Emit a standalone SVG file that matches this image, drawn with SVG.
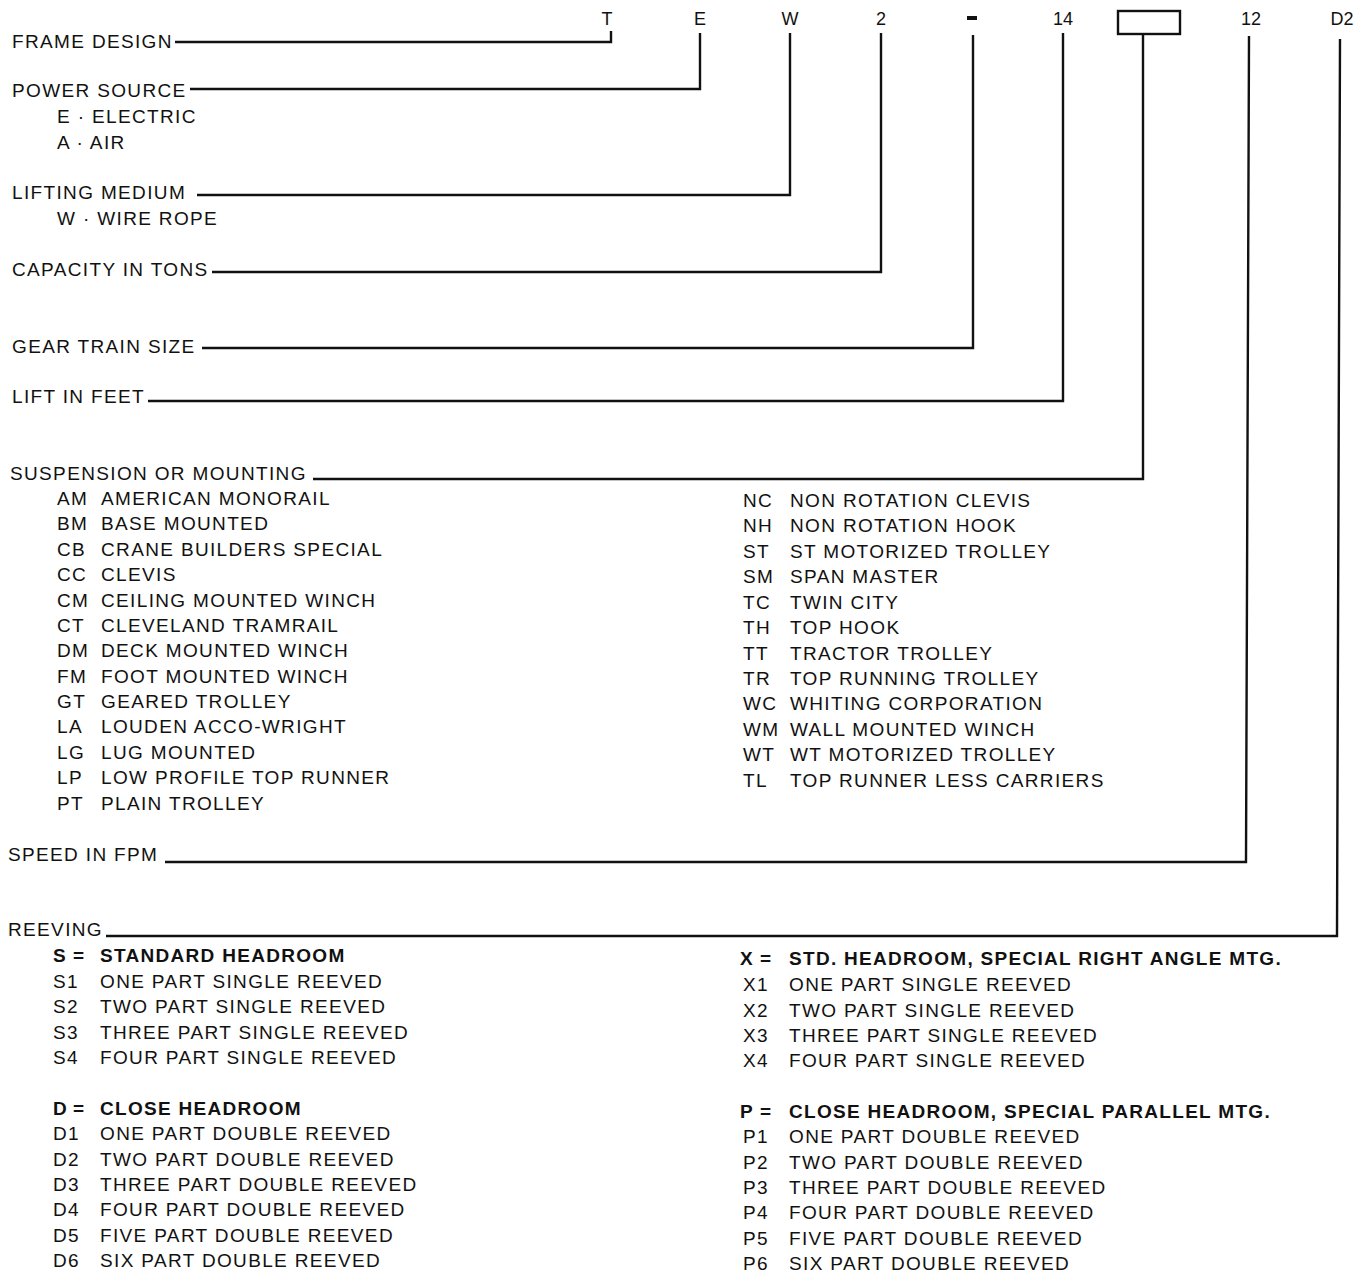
<svg xmlns="http://www.w3.org/2000/svg" width="1370" height="1276" viewBox="0 0 1370 1276">
<style>
text{font-family:"Liberation Sans",Arial,sans-serif;fill:#111;font-size:19px;letter-spacing:1.35px}
.c{font-size:18px;letter-spacing:0px;text-anchor:middle}
.b{font-weight:bold;letter-spacing:1.3px}
.ln{stroke:#111;stroke-width:2.4;fill:none}
</style>
<rect width="1370" height="1276" fill="#fff"/>
<g id="code">
<text class="c" x="607" y="25">T</text>
<text class="c" x="700" y="25">E</text>
<text class="c" x="790" y="25">W</text>
<text class="c" x="881" y="25">2</text>
<rect x="967" y="16" width="10" height="4" fill="#111"/>
<text class="c" x="1063" y="25">14</text>
<rect x="1118" y="11" width="62" height="23" class="ln" stroke-width="2"/>
<text class="c" x="1251" y="25">12</text>
<text class="c" x="1342" y="25">D2</text>
</g>
<g id="connectors" class="ln">
<polyline points="175,42 611,42 611,31"/>
<polyline points="190,89 700,89 700,33"/>
<polyline points="197,195 790,195 790,33"/>
<polyline points="212,272 881,272 881,33"/>
<polyline points="202,348 973,348 973,35"/>
<polyline points="148,401 1063,401 1063,33"/>
<polyline points="313,479 1143,479 1143,34"/>
<polyline points="165,862 1246,862 1249,36"/>
<polyline points="106,936 1337,936 1340,39"/>
</g>
<g id="frame-design"><text x="12" y="48">FRAME DESIGN</text></g>
<g id="power-source">
<text x="12" y="97">POWER SOURCE</text>
<text x="57" y="123">E · ELECTRIC</text>
<text x="57" y="149">A · AIR</text>
</g>
<g id="lifting-medium">
<text x="12" y="199">LIFTING MEDIUM</text>
<text x="57" y="225">W · WIRE ROPE</text>
</g>
<g id="capacity"><text x="12" y="276">CAPACITY IN TONS</text></g>
<g id="gear-train"><text x="12" y="353">GEAR TRAIN SIZE</text></g>
<g id="lift"><text x="12" y="403">LIFT IN FEET</text></g>
<g id="suspension">
<text x="10" y="480">SUSPENSION OR MOUNTING</text>
<text x="57" y="505">AM</text><text x="101" y="505">AMERICAN MONORAIL</text>
<text x="57" y="530">BM</text><text x="101" y="530">BASE MOUNTED</text>
<text x="57" y="556">CB</text><text x="101" y="556">CRANE BUILDERS SPECIAL</text>
<text x="57" y="581">CC</text><text x="101" y="581">CLEVIS</text>
<text x="57" y="607">CM</text><text x="101" y="607">CEILING MOUNTED WINCH</text>
<text x="57" y="632">CT</text><text x="101" y="632">CLEVELAND TRAMRAIL</text>
<text x="57" y="657">DM</text><text x="101" y="657">DECK MOUNTED WINCH</text>
<text x="57" y="683">FM</text><text x="101" y="683">FOOT MOUNTED WINCH</text>
<text x="57" y="708">GT</text><text x="101" y="708">GEARED TROLLEY</text>
<text x="57" y="733">LA</text><text x="101" y="733">LOUDEN ACCO-WRIGHT</text>
<text x="57" y="759">LG</text><text x="101" y="759">LUG MOUNTED</text>
<text x="57" y="784">LP</text><text x="101" y="784">LOW PROFILE TOP RUNNER</text>
<text x="57" y="810">PT</text><text x="101" y="810">PLAIN TROLLEY</text>
<text x="743" y="507">NC</text><text x="790" y="507">NON ROTATION CLEVIS</text>
<text x="743" y="532">NH</text><text x="790" y="532">NON ROTATION HOOK</text>
<text x="743" y="558">ST</text><text x="790" y="558">ST MOTORIZED TROLLEY</text>
<text x="743" y="583">SM</text><text x="790" y="583">SPAN MASTER</text>
<text x="743" y="609">TC</text><text x="790" y="609">TWIN CITY</text>
<text x="743" y="634">TH</text><text x="790" y="634">TOP HOOK</text>
<text x="743" y="660">TT</text><text x="790" y="660">TRACTOR TROLLEY</text>
<text x="743" y="685">TR</text><text x="790" y="685">TOP RUNNING TROLLEY</text>
<text x="743" y="710">WC</text><text x="790" y="710">WHITING CORPORATION</text>
<text x="743" y="736">WM</text><text x="790" y="736">WALL MOUNTED WINCH</text>
<text x="743" y="761">WT</text><text x="790" y="761">WT MOTORIZED TROLLEY</text>
<text x="743" y="787">TL</text><text x="790" y="787">TOP RUNNER LESS CARRIERS</text>
</g>
<g id="speed"><text x="8" y="861">SPEED IN FPM</text></g>
<g id="reeving">
<text x="8" y="936">REEVING</text>
<text class="b" x="53" y="962">S</text><text class="b" x="73" y="962">=</text><text class="b" x="100" y="962">STANDARD HEADROOM</text>
<text x="53" y="988">S1</text><text x="100" y="988">ONE PART SINGLE REEVED</text>
<text x="53" y="1013">S2</text><text x="100" y="1013">TWO PART SINGLE REEVED</text>
<text x="53" y="1039">S3</text><text x="100" y="1039">THREE PART SINGLE REEVED</text>
<text x="53" y="1064">S4</text><text x="100" y="1064">FOUR PART SINGLE REEVED</text>
<text class="b" x="53" y="1115">D</text><text class="b" x="73" y="1115">=</text><text class="b" x="100" y="1115">CLOSE HEADROOM</text>
<text x="53" y="1140">D1</text><text x="100" y="1140">ONE PART DOUBLE REEVED</text>
<text x="53" y="1166">D2</text><text x="100" y="1166">TWO PART DOUBLE REEVED</text>
<text x="53" y="1191">D3</text><text x="100" y="1191">THREE PART DOUBLE REEVED</text>
<text x="53" y="1216">D4</text><text x="100" y="1216">FOUR PART DOUBLE REEVED</text>
<text x="53" y="1242">D5</text><text x="100" y="1242">FIVE PART DOUBLE REEVED</text>
<text x="53" y="1267">D6</text><text x="100" y="1267">SIX PART DOUBLE REEVED</text>
<text class="b" x="740" y="965">X</text><text class="b" x="760" y="965">=</text><text class="b" x="789" y="965">STD. HEADROOM, SPECIAL RIGHT ANGLE MTG.</text>
<text x="743" y="991">X1</text><text x="789" y="991">ONE PART SINGLE REEVED</text>
<text x="743" y="1017">X2</text><text x="789" y="1017">TWO PART SINGLE REEVED</text>
<text x="743" y="1042">X3</text><text x="789" y="1042">THREE PART SINGLE REEVED</text>
<text x="743" y="1067">X4</text><text x="789" y="1067">FOUR PART SINGLE REEVED</text>
<text class="b" x="740" y="1118">P</text><text class="b" x="760" y="1118">=</text><text class="b" x="789" y="1118">CLOSE HEADROOM, SPECIAL PARALLEL MTG.</text>
<text x="743" y="1143">P1</text><text x="789" y="1143">ONE PART DOUBLE REEVED</text>
<text x="743" y="1169">P2</text><text x="789" y="1169">TWO PART DOUBLE REEVED</text>
<text x="743" y="1194">P3</text><text x="789" y="1194">THREE PART DOUBLE REEVED</text>
<text x="743" y="1219">P4</text><text x="789" y="1219">FOUR PART DOUBLE REEVED</text>
<text x="743" y="1245">P5</text><text x="789" y="1245">FIVE PART DOUBLE REEVED</text>
<text x="743" y="1270">P6</text><text x="789" y="1270">SIX PART DOUBLE REEVED</text>
</g>
</svg>
